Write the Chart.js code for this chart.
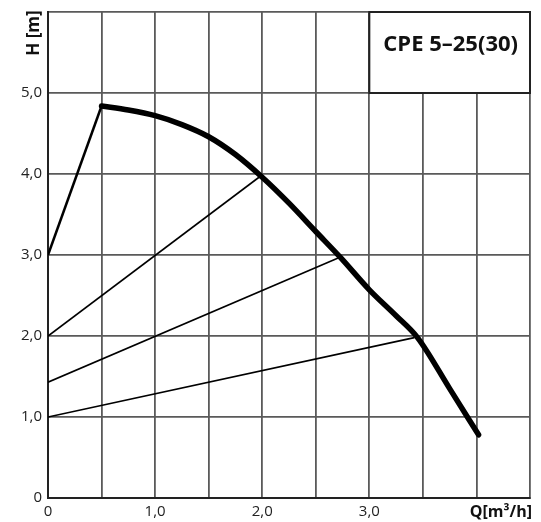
<!DOCTYPE html>
<html>
<head>
<meta charset="utf-8">
<script src="https://cdn.jsdelivr.net/npm/chart.js@4.4.1/dist/chart.umd.min.js"></script>
<style>
  html, body { margin: 0; padding: 0; background: #fff; }
  #wrap { width: 541px; height: 522px; }
</style>
</head>
<body>
<div id="wrap"><canvas id="pumpChart" width="541" height="522"></canvas></div>
<script>
// curva della pompa CPE 5-25(30)
var pumpQ = [0.5, 0.75, 1.0, 1.25, 1.5, 1.75, 2.0, 2.25, 2.5, 2.73, 3.0, 3.25, 3.45, 3.75, 4.02];
var pumpH = [4.84, 4.79, 4.72, 4.61, 4.46, 4.24, 3.96, 3.64, 3.29, 2.97, 2.57, 2.25, 1.98, 1.35, 0.78];

// linea di regolazione iniziale
var startQ = [0, 0.5];
var startH = [3.0, 4.84];

// curve dell'impianto (punto iniziale, punto sulla curva)
var sys1Q = [0, 1.97];
var sys1H = [2.0, 3.96];
var sys2Q = [0, 2.72];
var sys2H = [1.43, 2.97];
var sys3Q = [0, 3.42];
var sys3H = [1.0, 1.98];

// etichette assi
var xTickVals = [0, 1, 2, 3];
var xTickLabels = ['0', '1,0', '2,0', '3,0'];
var yTickVals = [0, 1, 2, 3, 4, 5];
var yTickLabels = ['0', '1,0', '2,0', '3,0', '4,0', '5,0'];
var xTitle = 'Q[m³/h]';
var yTitle = 'H [m]';
var boxTitle = 'CPE 5–25(30)';

function toPoints(qs, hs) {
    return qs.map(function(q, i) { return { x: q, y: hs[i] }; });
}

function lineSet(qs, hs, width) {
    return {
        data: toPoints(qs, hs),
        showLine: true,
        borderColor: '#000',
        borderWidth: width,
        pointRadius: 0,
        fill: false
    };
}

var pumpSet = lineSet(pumpQ, pumpH, 5.5);
pumpSet.cubicInterpolationMode = 'monotone';
pumpSet.borderCapStyle = 'round';

// niente spazio extra per le etichette ai bordi
function noEdgePadding(scale) {
    scale.paddingTop = 0;
    scale.paddingBottom = 0;
    scale.paddingLeft = 0;
    scale.paddingRight = 0;
}

// riquadro con il nome della pompa + titoli degli assi
var extras = {
    id: 'extras',
    afterDraw: function(chart) {
        var ctx = chart.ctx;
        var xs = chart.scales.x, ys = chart.scales.y;
        var x1 = xs.getPixelForValue(3.0), x2 = xs.getPixelForValue(4.5);
        var y1 = ys.getPixelForValue(6.0), y2 = ys.getPixelForValue(5.0);
        ctx.save();
        ctx.fillStyle = '#fff';
        ctx.fillRect(x1, y1, x2 - x1, y2 - y1);
        ctx.strokeStyle = '#222';
        ctx.lineWidth = 2;
        ctx.strokeRect(x1, y1, x2 - x1, y2 - y1);
        ctx.fillStyle = '#111';
        ctx.font = 'bold 22px "Open Sans"';
        ctx.textAlign = 'center';
        ctx.textBaseline = 'middle';
        ctx.fillText(boxTitle, (x1 + x2) / 2 + 1, y1 + 33);

        ctx.font = 'bold 16px "Open Sans"';
        ctx.textAlign = 'right';
        ctx.fillText(xTitle, 532, 512);

        ctx.translate(34, 33);
        ctx.rotate(-Math.PI / 2);
        ctx.textAlign = 'center';
        ctx.font = 'bold 17px "Open Sans"';
        ctx.fillText(yTitle, 0, 0);
        ctx.restore();
    }
};

var config = {
    type: 'scatter',
    data: {
        datasets: [
            pumpSet,
            lineSet(startQ, startH, 2.5),
            lineSet(sys1Q, sys1H, 1.6),
            lineSet(sys2Q, sys2H, 1.6),
            lineSet(sys3Q, sys3H, 1.6)
        ]
    },
    options: {
        responsive: false,
        animation: false,
        layout: { padding: { top: 12, right: 11, left: 0, bottom: 0 } },
        plugins: { legend: { display: false }, tooltip: { enabled: false } },
        scales: {
            x: {
                type: 'linear',
                min: 0, max: 4.5,
                afterFit: function(scale) { scale.height = 24; noEdgePadding(scale); },
                grid: { color: '#5a5a5a', lineWidth: 1.8, drawTicks: false },
                border: { color: '#222', width: 2 },
                ticks: {
                    stepSize: 0.5,
                    padding: 5,
                    maxRotation: 0,
                    autoSkip: false,
                    color: '#222',
                    font: { family: '"Open Sans"', size: 15 },
                    callback: function(v) {
                        var i = xTickVals.indexOf(v);
                        return i >= 0 ? xTickLabels[i] : '';
                    }
                }
            },
            y: {
                type: 'linear',
                min: 0, max: 6,
                afterFit: function(scale) { scale.width = 48; noEdgePadding(scale); },
                grid: { color: '#5a5a5a', lineWidth: 1.8, drawTicks: false },
                border: { color: '#222', width: 2 },
                ticks: {
                    stepSize: 1,
                    padding: 6,
                    autoSkip: false,
                    color: '#222',
                    font: { family: '"Open Sans"', size: 15 },
                    callback: function(v) {
                        var i = yTickVals.indexOf(v);
                        return i >= 0 ? yTickLabels[i] : '';
                    }
                }
            }
        }
    },
    plugins: [extras]
};

new Chart(document.getElementById('pumpChart').getContext('2d'), config);
</script>
</body>
</html>
